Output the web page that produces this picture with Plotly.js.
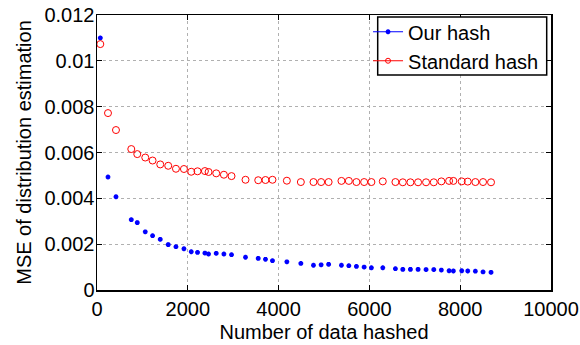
<!DOCTYPE html>
<html>
<head>
<meta charset="utf-8">
<script src="https://cdn.plot.ly/plotly-3.0.1.min.js"></script>
<style>html,body{margin:0;padding:0;background:#fff;}#chart{width:580px;height:345px;}</style>
</head>
<body>
<div id="chart"></div>
<script>
const numHashed = [73, 242, 418, 755, 887, 1063, 1224, 1393, 1569, 1739, 1915, 2076, 2214, 2377, 2457, 2626, 2795, 2963, 3271, 3551, 3711, 3865, 4182, 4490, 4768, 4937, 5102, 5384, 5547, 5714, 5884, 6044, 6295, 6573, 6736, 6903, 7072, 7248, 7418, 7585, 7755, 7850, 8034, 8166, 8334, 8503, 8679];
const ourHash = [0.01100, 0.00493, 0.00407, 0.00307, 0.00294, 0.00254, 0.00237, 0.00221, 0.00198, 0.00189, 0.00180, 0.00167, 0.00164, 0.00161, 0.00157, 0.00160, 0.00157, 0.00154, 0.00143, 0.00138, 0.00134, 0.00128, 0.00123, 0.00116, 0.00108, 0.00110, 0.00112, 0.00108, 0.00106, 0.00103, 0.00100, 0.00097, 0.00097, 0.00093, 0.00090, 0.00090, 0.00090, 0.00089, 0.00089, 0.00087, 0.00084, 0.00083, 0.00084, 0.00083, 0.00082, 0.00079, 0.00077];
const standardHash = [0.01073, 0.00772, 0.00698, 0.00615, 0.00593, 0.00578, 0.00565, 0.00548, 0.00542, 0.00529, 0.00528, 0.00516, 0.00518, 0.00519, 0.00515, 0.00509, 0.00503, 0.00497, 0.00481, 0.00479, 0.00480, 0.00481, 0.00477, 0.00471, 0.00471, 0.00471, 0.00471, 0.00476, 0.00476, 0.00471, 0.00471, 0.00471, 0.00474, 0.00471, 0.00470, 0.00470, 0.00470, 0.00470, 0.00470, 0.00474, 0.00476, 0.00476, 0.00474, 0.00473, 0.00471, 0.00471, 0.00470];
const seriesNames = ["Our hash", "Standard hash"];
const xTicks = [0, 2000, 4000, 6000, 8000, 10000];
const yTicks = [0, 0.002, 0.004, 0.006, 0.008, 0.01, 0.012];
const yTickText = ["0", "0.002", "0.004", "0.006", "0.008", "0.01", "0.012"];

const FONT = "Liberation Sans, Arial, sans-serif";
const FS = 20;
const traces = [
  {x: numHashed, y: ourHash, mode: "markers", showlegend: false, name: seriesNames[0],
   marker: {symbol: "asterisk-open", size: 4, color: "#0000ff", line: {color: "#0000ff", width: 1.6}}},
  {x: numHashed, y: standardHash, mode: "markers", showlegend: false, name: seriesNames[1],
   marker: {symbol: "circle-open", size: 7, color: "#ff0000", line: {color: "#ff0000", width: 1}}},
  {x: [null], y: [null], mode: "lines+markers", name: seriesNames[0],
   line: {color: "#0000ff", width: 1},
   marker: {symbol: "asterisk-open", size: 4, color: "#0000ff", line: {color: "#0000ff", width: 1.6}}},
  {x: [null], y: [null], mode: "lines+markers", name: seriesNames[1],
   line: {color: "#ff0000", width: 1},
   marker: {symbol: "circle-open", size: 5, color: "#ff0000", line: {color: "#ff0000", width: 1}}}
];
const axisCommon = {
  showline: true, linecolor: "#000", linewidth: 1.5, mirror: "ticks",
  ticks: "inside", ticklen: 5, tickcolor: "#000", tickwidth: 1,
  showgrid: true, gridcolor: "#b0b0b0", griddash: "dot", gridwidth: 1,
  zeroline: false, tickfont: {family: FONT, size: FS, color: "#000"}
};
const layout = {
  width: 580, height: 345,
  margin: {l: 97, r: 29, t: 15, b: 55, autoexpand: false},
  paper_bgcolor: "#fff", plot_bgcolor: "#fff",
  font: {family: FONT, color: "#000"},
  xaxis: Object.assign({}, axisCommon, {
    range: [0, 10000], tickvals: xTicks, ticktext: xTicks.map(String),
    title: {text: "Number of data hashed", font: {family: FONT, size: FS}, standoff: 6}
  }),
  yaxis: Object.assign({}, axisCommon, {
    range: [0, 0.012], tickvals: yTicks, ticktext: yTickText, ticklabelstandoff: -3,
    title: {text: "MSE of distribution estimation", font: {family: FONT, size: FS}, standoff: 7}
  }),
  shapes: [{type: "rect", xref: "paper", yref: "paper", layer: "above",
    x0: (377.7 - 97) / 454, x1: (546.7 - 97) / 454, y0: (290 - 75) / 275, y1: (290 - 17) / 275,
    fillcolor: "#fff", line: {color: "#000", width: 1.5}}],
  legend: {x: 0.597, y: 1.01, xanchor: "left", yanchor: "top",
    bgcolor: "rgba(0,0,0,0)", borderwidth: 0,
    font: {family: FONT, size: FS}, tracegroupgap: 0, itemwidth: 30}
};
Plotly.newPlot("chart", traces, layout, {displayModeBar: false, staticPlot: true});
</script>
</body>
</html>
